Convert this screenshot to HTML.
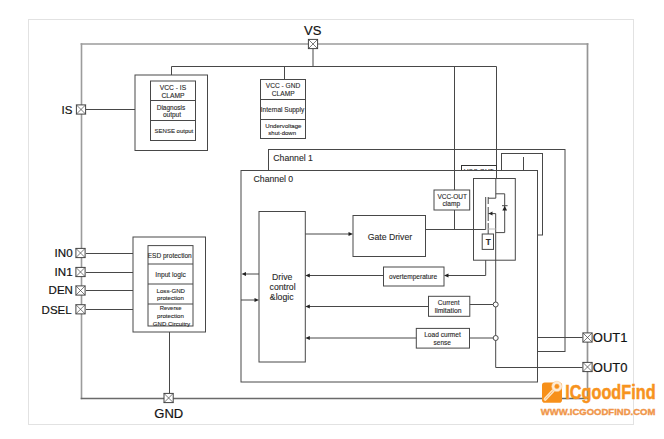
<!DOCTYPE html>
<html><head><meta charset="utf-8">
<style>
html,body{margin:0;padding:0;background:#fff;width:664px;height:439px;overflow:hidden}
svg{display:block;position:absolute;left:0;top:0}
text{font-family:"Liberation Sans",sans-serif;fill:#2a2a2a;stroke:#2a2a2a;stroke-width:0.12px}
.s{font-size:6.5px}
.m{font-size:8.7px}
.L{font-size:13px;fill:#111;stroke:#111;stroke-width:0.18px}
</style></head>
<body>
<svg width="664" height="439" viewBox="0 0 664 439">
<!-- light outer border -->
<rect x="28.5" y="19.5" width="605" height="405" fill="none" stroke="#e2e2e2" stroke-width="1"/>

<!-- main frame -->
<g fill="none" stroke-linecap="square">
  <path d="M81.5 44 H587.5" stroke="#b4b4b4" stroke-width="1.8"/>
  <path d="M81.5 44 V398.5" stroke="#9c9c9c" stroke-width="1.6"/>
  <path d="M587.5 44 V398.5" stroke="#959595" stroke-width="1.7"/>
  <path d="M81.5 398.5 H587.5" stroke="#6a6a6a" stroke-width="1.6"/>
</g>

<g fill="none" stroke="#484848" stroke-width="1">
  <!-- top bus -->
  <path d="M313 49 V66.5 M171.5 66.5 H496.5 M171.5 66.5 V75 M284.5 66.5 V79.5 M454.5 66.5 V190 M496.5 66.5 V178.5"/>
  <!-- IS line -->
  <path d="M86 109.5 H135"/>
  <!-- input lines -->
  <path d="M86 253.5 H133 M86 272.5 H133 M86 290.5 H133 M86 309.5 H133"/>
  <!-- GND vertical -->
  <path d="M169.5 332 V393"/>
</g>

<!-- VCC-IS block -->
<g fill="none" stroke="#484848" stroke-width="1">
  <rect x="135" y="75" width="72.5" height="75.5"/>
  <rect x="150.5" y="81" width="45" height="59.5"/>
  <path d="M150.5 100.5 H195.5 M150.5 120.5 H195.5"/>
</g>
<text class="s" x="173" y="89.7" text-anchor="middle" style="font-size:6.7px">VCC - IS</text>
<text class="s" x="173" y="97.5" text-anchor="middle" style="font-size:6.7px">CLAMP</text>
<text class="s" x="171" y="109.6" text-anchor="middle" style="font-size:6.5px">Diagnosis</text>
<text class="s" x="172" y="117" text-anchor="middle" style="font-size:6.5px">output</text>
<text class="s" x="173.9" y="132.7" text-anchor="middle" style="font-size:6px">SENSE output</text>

<!-- VCC-GND block -->
<g fill="none" stroke="#484848" stroke-width="1">
  <rect x="260.5" y="79.5" width="45" height="59"/>
  <path d="M260.5 99.5 H305.5 M260.5 119.5 H305.5"/>
</g>
<text class="s" x="283" y="88" text-anchor="middle" style="font-size:6.6px">VCC - GND</text>
<text class="s" x="283.2" y="96" text-anchor="middle" style="font-size:6.6px">CLAMP</text>
<text class="s" x="282.5" y="111.9" text-anchor="middle" style="font-size:6.5px">Internal Supply</text>
<text class="s" x="283.4" y="127.7" text-anchor="middle" style="font-size:6.1px">Undervoltage</text>
<text class="s" x="282.2" y="135" text-anchor="middle" style="font-size:6px">shut-down</text>

<!-- Channel 1 -->
<g fill="none" stroke="#484848" stroke-width="1">
  <rect x="268.5" y="149.5" width="296.5" height="202" fill="#fff"/>
  <rect x="501.5" y="153.5" width="41" height="81.5"/>
  <path d="M523.5 157 V170 M454.5 149.5 V170 M496.5 149.5 V170"/>
  <rect x="461.5" y="165.5" width="35" height="8" stroke="#333"/>
</g>
<text class="m" x="273.3" y="161">Channel 1</text>

<text class="s" x="478.8" y="173.6" text-anchor="middle" style="fill:#333">VCC-OUT</text>
<!-- Channel 0 -->
<g fill="none" stroke="#484848" stroke-width="1">
  <rect x="241" y="170.5" width="296.5" height="211.5" fill="#fff"/>
  <path d="M454.5 170.5 V190 M496.5 170.5 V178.5"/>
</g>
<text class="m" x="253.6" y="181.9">Channel 0</text>

<!-- Drive control -->
<g fill="none" stroke="#484848" stroke-width="1">
  <rect x="259" y="211.5" width="46.3" height="150.5"/>
</g>
<text class="m" x="282.2" y="279.6" text-anchor="middle">Drive</text>
<text class="m" x="282.6" y="290" text-anchor="middle">control</text>
<text class="m" x="281.7" y="300" text-anchor="middle">&amp;logic</text>

<!-- Gate driver -->
<g fill="none" stroke="#484848" stroke-width="1">
  <rect x="353" y="215.5" width="72.5" height="41"/>
  <rect x="434" y="190" width="35.7" height="20"/>
  <rect x="473.5" y="178.5" width="41.8" height="81.7"/>
  <rect x="482.2" y="234" width="11.3" height="15.4"/>
  <rect x="383.5" y="267" width="60.5" height="19"/>
  <rect x="428.5" y="296.3" width="41.3" height="20"/>
  <rect x="416.3" y="328.4" width="53.2" height="19.7"/>
  <!-- wires -->
  <path d="M305.3 234 H350"/>
  <path d="M425.5 229.5 H485.7 M454.5 210 V229.5"/>
  <path d="M485.7 260.2 V275.5 H447"/>
  <path d="M383.5 275.5 H308.5"/>
  <path d="M428.5 306.5 H308.5"/>
  <path d="M416.3 338 H308.5"/>
  <path d="M469.8 304.5 H493 M469.5 338 H493"/>
  <path d="M495.7 213.6 V367.5 H582.5"/>
  <path d="M259 274 H244.5 M241 300 H255.5"/>
  <path d="M537.5 337.5 H582.5"/>
  <!-- transistor -->
  <path d="M495.8 178.5 V198.2 H488.2 M495.8 193.8 H504.7 V232.6 H495.8 M485.7 197 V229.5"/>
  <path d="M488.2 197 V204 M488.2 207 V221 M488.2 223 V229 M488.2 213.6 H495.7 M488.2 229 V234"/>
  <path d="M488.2 229 H495.7" stroke="#bbb"/>
  <path d="M502 205.7 H507.6"/>
</g>
<!-- arrowheads -->
<g fill="#222">
  <path d="M353 234 L348.5 232 V236 Z"/>
  <path d="M444 275.5 L448.5 273.5 V277.5 Z"/>
  <path d="M305.3 275.5 L309.8 273.5 V277.5 Z"/>
  <path d="M305.3 306.5 L309.8 304.5 V308.5 Z"/>
  <path d="M305.3 338 L309.8 336 V340 Z"/>
  <path d="M241.5 274 L246 272 V276 Z"/>
  <path d="M259 300 L254.5 298 V302 Z"/>
  <path d="M488.7 213.6 L492.5 211.6 V215.6 Z"/>
  <path d="M504.7 206 L502.3 210.5 H507.1 Z"/>
</g>
<circle cx="495.7" cy="304.5" r="2.5" fill="#fff" stroke="#484848" stroke-width="1"/>
<circle cx="495.7" cy="338" r="2.5" fill="#fff" stroke="#484848" stroke-width="1"/>

<text class="m" x="367.7" y="239.7">Gate Driver</text>
<text class="s" x="452.2" y="198.5" text-anchor="middle">VCC-OUT</text>
<text class="s" x="451.3" y="206" text-anchor="middle" style="font-size:6.6px">clamp</text>
<text x="488.4" y="244.9" text-anchor="middle" style="font-size:8.3px;font-weight:bold">T</text>
<text class="s" x="413.1" y="279.4" text-anchor="middle" style="font-size:6.55px">overtemperature</text>
<text class="s" x="448.7" y="305" text-anchor="middle">Current</text>
<text class="s" x="448.1" y="312.5" text-anchor="middle" style="font-size:6.8px">limitation</text>
<text class="s" x="442.5" y="336.9" text-anchor="middle" style="font-size:6.6px">Load curmet</text>
<text class="s" x="442.2" y="344.7" text-anchor="middle">sense</text>

<!-- Input block -->
<g fill="none" stroke="#484848" stroke-width="1">
  <rect x="133" y="237" width="72.5" height="95"/>
  <rect x="148" y="245.6" width="45" height="80.4"/>
  <path d="M148 264 H193 M148 284 H193 M148 304 H193"/>
</g>
<text class="s" x="169.7" y="257.7" text-anchor="middle" style="font-size:6.56px">ESD protection</text>
<text class="s" x="170.6" y="276.9" text-anchor="middle" style="font-size:6.7px">Input logic</text>
<text class="s" x="170.8" y="293.1" text-anchor="middle" style="font-size:6.1px">Loss-GND</text>
<text class="s" x="170.4" y="300.2" text-anchor="middle" style="font-size:6.1px">protection</text>
<text class="s" x="170.6" y="310" text-anchor="middle" style="font-size:5.9px">Reverse</text>
<text class="s" x="170.4" y="318" text-anchor="middle" style="font-size:6.1px">protection</text>
<text class="s" x="171.5" y="325.6" text-anchor="middle" style="font-size:6.05px">GND Circuitry</text>

<!-- pins -->
<defs>
  <g id="pin"><rect x="-4.6" y="-4.6" width="9.2" height="9.2"/><path d="M-4.6 -4.6 L4.6 4.6 M4.6 -4.6 L-4.6 4.6" stroke-width="0.7"/></g>
</defs>
<g fill="#fff" stroke="#444" stroke-width="1">
  <use href="#pin" x="313" y="44"/>
  <use href="#pin" x="81" y="109.5"/>
  <use href="#pin" x="80.5" y="253"/>
  <use href="#pin" x="80.5" y="272"/>
  <use href="#pin" x="80.5" y="290.5"/>
  <use href="#pin" x="80.5" y="309.3"/>
  <use href="#pin" x="168.6" y="398"/>
  <use href="#pin" x="587.5" y="337.5"/>
  <use href="#pin" x="587.5" y="367"/>
</g>
<text class="L" x="304" y="34.7">VS</text>
<text class="L" x="61.5" y="113.5" style="font-size:11.5px">IS</text>
<text class="L" x="54.6" y="256.9" style="font-size:11.6px">IN0</text>
<text class="L" x="54.6" y="275.9" style="font-size:11.6px">IN1</text>
<text class="L" x="48.6" y="294.4" style="font-size:11.5px">DEN</text>
<text class="L" x="41.6" y="313.5" style="font-size:11.5px">DSEL</text>
<text class="L" x="154.3" y="417.5">GND</text>
<text class="L" x="592.8" y="341.9">OUT1</text>
<text class="L" x="592.8" y="371.5">OUT0</text>

<!-- logo -->
<rect x="542" y="382.5" width="20" height="20.2" rx="2.8" fill="#f7901a"/>
<line x1="553.2" y1="390.6" x2="545.2" y2="399.2" stroke="#fde3c2" stroke-width="3.2" stroke-linecap="round"/>
<line x1="553.2" y1="390.6" x2="545.2" y2="399.2" stroke="#f7a040" stroke-width="1" stroke-dasharray="1 0.8"/>
<circle cx="556.9" cy="386.4" r="5.2" fill="#fdebd6" stroke="#f9c890" stroke-width="0.5"/>
<circle cx="556.9" cy="386.4" r="2.3" fill="#f7901a" stroke="#fbb060" stroke-width="0.9" stroke-dasharray="0.7 0.6"/>
<text x="565.3" y="399.3" style="font-size:20px;font-weight:bold;fill:#f7931e;stroke:#f7931e;stroke-width:0.5px" textLength="90.3" lengthAdjust="spacingAndGlyphs">ICgoodFind</text>
<text x="540.8" y="414.6" style="font-size:9.5px;font-weight:bold;fill:#f0964a;stroke:#f0964a;stroke-width:0.4px">WWW.ICGOODFIND.COM</text>
</svg>
</body></html>
